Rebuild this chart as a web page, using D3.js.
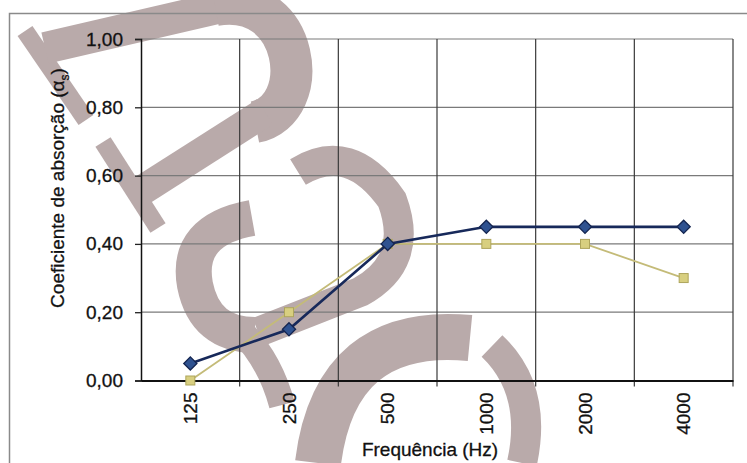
<!DOCTYPE html>
<html>
<head>
<meta charset="utf-8">
<script src="https://cdn.jsdelivr.net/npm/d3@7"></script>
<style>
  body { margin: 0; background: #fff; }
  svg { display: block; font-family: "Liberation Sans", Arial, sans-serif; }
</style>
</head>
<body>
<div id="chart"></div>
<script>
const categories = ['125', '250', '500', '1000', '2000', '4000'];
const seriesBlue = [0.05, 0.15, 0.40, 0.45, 0.45, 0.45];
const seriesOlive = [0.00, 0.20, 0.40, 0.40, 0.40, 0.30];
const yTicks = [0, 0.2, 0.4, 0.6, 0.8, 1.0];

// watermark shapes behind the chart (scan artefact)
const watermark = [
  { d: 'M25,31 L86,120', w: 18 },
  { d: 'M45,48 L235,4', w: 32 },
  { d: 'M215,5 C300,-10 315,110 255,122', w: 42 },
  { d: 'M265,112 L130,198', w: 30 },
  { d: 'M103,142 L158,228', w: 18 },
  { d: 'M298,172 Q350,140 392,200 Q415,262 360,292 L258,332', w: 30 },
  { d: 'M252,218 Q185,230 195,285 Q205,335 255,335', w: 36 },
  { d: 'M240,330 Q270,360 282,405', w: 26 },
  { d: 'M470,338 Q335,325 318,463', w: 46 },
  { d: 'M492,346 Q538,390 522,463', w: 30 }
];

const width = 747;
const height = 463;
const margin = { top: 39, right: 14, bottom: 82.5, left: 141 };
const font = '"Liberation Sans", Arial, sans-serif';

const svg = d3.select('#chart')
  .append('svg')
  .attr('width', width)
  .attr('height', height)
  .attr('viewBox', [0, 0, width, height]);

svg.append('g')
  .selectAll('path')
  .data(watermark)
  .join('path')
    .attr('d', d => d.d)
    .attr('fill', 'none')
    .attr('stroke', '#b9aaaa')
    .attr('stroke-width', d => d.w);

// outer frame
svg.append('rect')
  .attr('x', 9.5).attr('y', 13.5)
  .attr('width', 760).attr('height', 470)
  .attr('fill', 'none')
  .attr('stroke', '#8a8a8a')
  .attr('stroke-width', 1.5);

const x = d3.scaleBand()
  .domain(categories)
  .range([margin.left, width - margin.right]);

const y = d3.scaleLinear()
  .domain([0, 1])
  .range([height - margin.bottom, margin.top]);

// horizontal grid
svg.append('g')
  .attr('stroke', '#7a7a7a')
  .attr('stroke-width', 1.2)
  .selectAll('line')
  .data(yTicks.slice(1))
  .join('line')
    .attr('x1', margin.left).attr('x2', width - margin.right)
    .attr('y1', d => y(d)).attr('y2', d => y(d));

// vertical grid at category boundaries
svg.append('g')
  .attr('stroke', '#3a3a3a')
  .attr('stroke-width', 1.2)
  .selectAll('line')
  .data(categories.slice(1).concat(['end']))
  .join('line')
    .attr('x1', (d, i) => x(categories[0]) + x.bandwidth() * (i + 1))
    .attr('x2', (d, i) => x(categories[0]) + x.bandwidth() * (i + 1))
    .attr('y1', y(1)).attr('y2', y(0) + 6);

//Y-AXIS
svg.append('g')
  .attr('transform', `translate(${margin.left},0)`)
  .call(d3.axisLeft(y).tickValues(yTicks).tickSize(6).tickPadding(12)
    .tickFormat(d => d3.format('.2f')(d).replace('.', ',')))
  .call(g => g.select('.domain').attr('stroke', '#111').attr('stroke-width', 1.5))
  .call(g => g.selectAll('.tick line').attr('stroke', '#222').attr('stroke-width', 1.3))
  .call(g => g.selectAll('text').attr('fill', '#111').attr('font-size', 19)
    .attr('stroke', '#111').attr('stroke-width', 0.3)
    .attr('font-family', font));

//X-AXIS
svg.append('g')
  .attr('transform', `translate(0,${y(0)})`)
  .call(d3.axisBottom(x).tickSize(0).tickPadding(0))
  .call(g => g.select('.domain').attr('stroke', '#111').attr('stroke-width', 2))
  .call(g => g.selectAll('text')
    .attr('fill', '#111').attr('font-size', 19)
    .attr('stroke', '#111').attr('stroke-width', 0.3)
    .attr('font-family', font)
    .attr('transform', 'rotate(-90)')
    .attr('text-anchor', 'end')
    .attr('x', -12).attr('y', 0).attr('dy', '0.35em'));

const line = d3.line()
  .x((d, i) => x(categories[i]) + x.bandwidth() / 2)
  .y(d => y(d));

svg.append('path')
  .datum(seriesOlive)
  .attr('d', line)
  .attr('fill', 'none')
  .attr('stroke', '#c4bb78')
  .attr('stroke-width', 1.8);

svg.append('g')
  .selectAll('rect')
  .data(seriesOlive)
  .join('rect')
    .attr('x', (d, i) => x(categories[i]) + x.bandwidth() / 2 - 4.5)
    .attr('y', d => y(d) - 4.5)
    .attr('width', 9).attr('height', 9)
    .attr('fill', '#d8cf80')
    .attr('stroke', '#aea55c')
    .attr('stroke-width', 1);

svg.append('path')
  .datum(seriesBlue)
  .attr('d', line)
  .attr('fill', 'none')
  .attr('stroke', '#17295a')
  .attr('stroke-width', 2.6);

svg.append('g')
  .selectAll('path')
  .data(seriesBlue)
  .join('path')
    .attr('d', d3.symbol(d3.symbolDiamond2, 110))
    .attr('transform', (d, i) => `translate(${x(categories[i]) + x.bandwidth() / 2},${y(d)})`)
    .attr('fill', '#2f5290')
    .attr('stroke', '#142550')
    .attr('stroke-width', 1.3);

// axis titles
svg.append('text')
  .attr('x', 430).attr('y', 456)
  .attr('text-anchor', 'middle')
  .attr('font-size', 19)
  .attr('stroke', '#111').attr('stroke-width', 0.3)
  .attr('fill', '#111')
  .text('Frequência (Hz)');

const yt = svg.append('text')
  .attr('transform', 'translate(64,188) rotate(-90)')
  .attr('text-anchor', 'middle')
  .attr('font-size', 19)
  .attr('stroke', '#111').attr('stroke-width', 0.3)
  .attr('fill', '#111');
yt.append('tspan').text('Coeficiente de absorção (α');
yt.append('tspan').attr('font-size', 12).attr('dy', 5).text('s');
yt.append('tspan').attr('dy', -5).text(')');

svg.node();
</script>
</body>
</html>
